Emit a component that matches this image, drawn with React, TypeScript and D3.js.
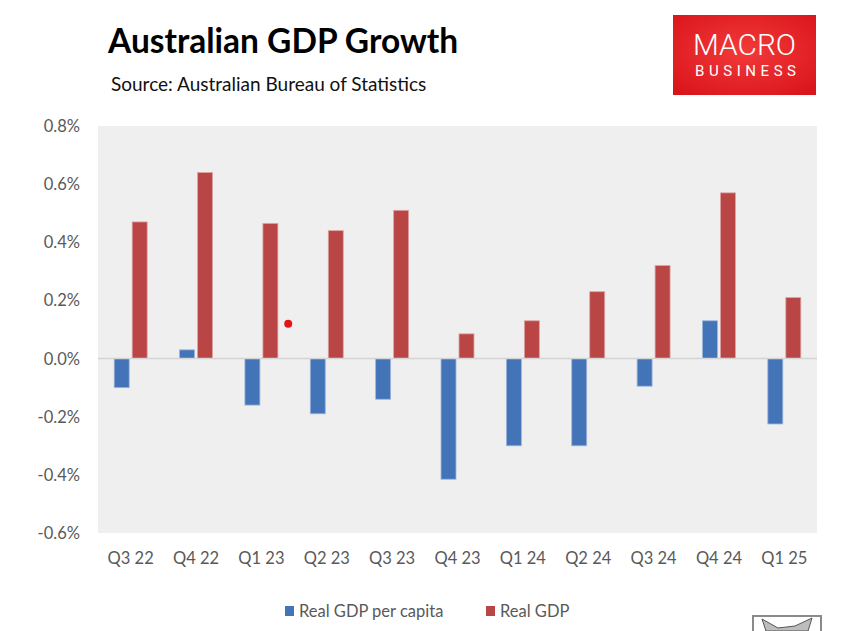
// @ts-nocheck
import React, { useEffect, useRef } from "react";
import * as d3 from "d3";

const quarters = ["Q3 22", "Q4 22", "Q1 23", "Q2 23", "Q3 23", "Q4 23", "Q1 24", "Q2 24", "Q3 24", "Q4 24", "Q1 25"];
const perCapita = [-0.1, 0.03, -0.16, -0.19, -0.14, -0.415, -0.3, -0.3, -0.095, 0.13, -0.225];
const realGdp = [0.47, 0.64, 0.465, 0.44, 0.51, 0.085, 0.13, 0.23, 0.32, 0.57, 0.21];
const yTicks = [-0.6, -0.4, -0.2, 0, 0.2, 0.4, 0.6, 0.8];
const seriesNames = ["Real GDP per capita", "Real GDP"];
const seriesColors = ["#4474b8", "#b94645"];
const strayDot = { after: "Q1 23", value: 0.12 };

const W = 844;
const H = 631;
const FONT = "Lato, 'Liberation Sans', sans-serif";

export default function App() {
  const ref = useRef(null);

  useEffect(() => {
    const svg = d3.select(ref.current);
    svg.selectAll("*").remove();

    const plot = { left: 98, right: 817, top: 126, bottom: 533 };

    const x = d3.scaleBand().domain(quarters).range([plot.left, plot.right]).padding(0);
    const xSub = d3
      .scaleBand()
      .domain(seriesNames)
      .range([0, x.bandwidth()])
      .paddingInner(0.167)
      .paddingOuter(0.9);
    const y = d3.scaleLinear().domain([-0.6, 0.8]).range([plot.bottom, plot.top]);

    // title + source
    svg.append("text")
      .attr("x", 108).attr("y", 53)
      .attr("font-family", FONT).attr("font-weight", 700).attr("font-size", 33.5)
      .attr("fill", "#000")
      .text("Australian GDP Growth");

    svg.append("text")
      .attr("x", 111).attr("y", 91)
      .attr("font-family", FONT).attr("font-size", 19)
      .attr("fill", "#111")
      .text("Source: Australian Bureau of Statistics");

    // logo
    const defs = svg.append("defs");
    const grad = defs.append("radialGradient").attr("id", "logoGrad").attr("cx", "50%").attr("cy", "45%").attr("r", "70%");
    grad.append("stop").attr("offset", "0%").attr("stop-color", "#f23a3a");
    grad.append("stop").attr("offset", "100%").attr("stop-color", "#d9141b");

    const logo = svg.append("g");
    logo.append("rect")
      .attr("x", 673).attr("y", 15).attr("width", 143).attr("height", 80)
      .attr("fill", "url(#logoGrad)");
    logo.append("text")
      .attr("x", 744.5).attr("y", 55).attr("text-anchor", "middle")
      .attr("font-family", "Roboto, sans-serif").attr("font-weight", 300).attr("font-size", 30)
      .attr("fill", "#fff")
      .attr("textLength", 103).attr("lengthAdjust", "spacingAndGlyphs")
      .text("MACRO");
    logo.append("text")
      .attr("x", 745.5).attr("y", 76).attr("text-anchor", "middle")
      .attr("font-family", "Roboto, sans-serif").attr("font-weight", 400).attr("font-size", 15)
      .attr("fill", "#fff")
      .attr("textLength", 101).attr("lengthAdjust", "spacing")
      .text("BUSINESS");

    // plot background
    svg.append("rect")
      .attr("x", plot.left).attr("y", plot.top)
      .attr("width", plot.right - plot.left).attr("height", plot.bottom - plot.top)
      .attr("fill", "#efefef");

    // y axis labels
    svg.append("g")
      .selectAll("text")
      .data(yTicks)
      .join("text")
      .attr("x", 80)
      .attr("y", (d) => y(d) + 6)
      .attr("text-anchor", "end")
      .attr("font-family", FONT).attr("font-size", 16.5)
      .attr("fill", "#595959")
      .text((d) => d3.format(".1f")(d).replace("\u2212", "-") + "%");

    // bars
    const series = [perCapita, realGdp];
    series.forEach((vals, si) => {
      svg.append("g")
        .selectAll("rect")
        .data(vals.map((v, i) => ({ q: quarters[i], v })))
        .join("rect")
        .attr("x", (d) => x(d.q) + xSub(seriesNames[si]))
        .attr("y", (d) => y(Math.max(0, d.v)))
        .attr("width", xSub.bandwidth())
        .attr("height", (d) => Math.abs(y(d.v) - y(0)))
        .attr("fill", seriesColors[si])
        .attr("stroke", si === 0 ? "#9db6dc" : "#dca5a4")
        .attr("stroke-width", 0.8);
    });

    // zero line
    svg.append("line")
      .attr("x1", plot.left).attr("x2", plot.right)
      .attr("y1", y(0)).attr("y2", y(0))
      .attr("stroke", "#d4d4d4").attr("stroke-width", 1.5);

    // x axis labels
    svg.append("g")
      .selectAll("text")
      .data(quarters)
      .join("text")
      .attr("x", (d) => x(d) + x.bandwidth() / 2)
      .attr("y", 564)
      .attr("text-anchor", "middle")
      .attr("font-family", FONT).attr("font-size", 16.5)
      .attr("fill", "#595959")
      .text((d) => d);

    // stray red dot
    svg.append("circle")
      .attr("cx", x(strayDot.after) + x.step() * 0.91)
      .attr("cy", y(strayDot.value))
      .attr("r", 4)
      .attr("fill", "#e31414");

    // legend
    const legendX = [285, 486];
    seriesNames.forEach((name, i) => {
      svg.append("rect")
        .attr("x", legendX[i]).attr("y", 606)
        .attr("width", 9).attr("height", 10)
        .attr("fill", seriesColors[i]);
      svg.append("text")
        .attr("x", legendX[i] + 14).attr("y", 617)
        .attr("font-family", FONT).attr("font-size", 16.5)
        .attr("fill", "#595959")
        .text(name);
    });

    // little corner image
    const thumb = svg.append("g");
    thumb.append("rect")
      .attr("x", 753).attr("y", 616).attr("width", 68).attr("height", 20)
      .attr("fill", "#fff").attr("stroke", "#8a8a8a").attr("stroke-width", 2);
    thumb.append("path")
      .attr("d", "M762,619 L778,628 L795,626 L812,618 L808,631 L766,631 Z")
      .attr("fill", "#bdbdbd").attr("stroke", "#555").attr("stroke-width", 1);
  }, []);

  return (
    <svg
      ref={ref}
      width={W}
      height={H}
      style={{ position: "absolute", left: 0, top: 0, background: "#fff", display: "block" }}
    />
  );
}
